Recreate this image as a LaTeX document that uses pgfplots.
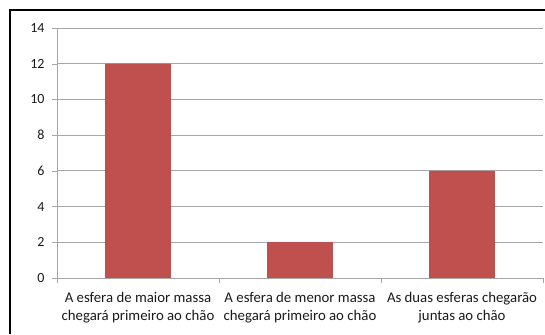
\documentclass[border=0pt]{standalone}
\usepackage{pgfplots}
\pgfplotsset{compat=1.18}
\usepackage{fontspec}
\setmainfont{Carlito}
\definecolor{barred}{HTML}{C0504D}
\definecolor{gridgray}{HTML}{A6A6A6}
\definecolor{txt}{HTML}{1A1A1A}
\begin{document}
\begin{tikzpicture}
\useasboundingbox (0pt,0pt) rectangle (545pt,334pt);
\draw[black,line width=2pt] (10pt,0pt) -- (10pt,324pt) -- (545pt,324pt);
\begin{axis}[
  at={(57pt,56pt)}, anchor=south west,
  scale only axis, width=486pt, height=250pt,
  xmin=0, xmax=3, ymin=0, ymax=14,
  ytick={0,2,...,14},
  xtick={0.5,1.5,2.5},
  xticklabels={{A esfera de maior massa\\chegará primeiro ao chão},{A esfera de menor massa\\chegará primeiro ao chão},{As duas esferas chegarão\\juntas ao chão}},
  xticklabel style={align=center, font=\fontsize{14.8}{18}\selectfont, text=txt},
  yticklabel style={font=\fontsize{14}{15}\selectfont, text=txt},
  minor xtick={0,1,2,3},
  major x tick style={draw=none},
  minor x tick style={draw=gridgray},
  y tick style={draw=gridgray},
  tick align=outside,
  major tick length=5pt, minor tick length=5pt,
  xtick pos=bottom, ytick pos=left,
  ymajorgrids, grid style={gridgray, line width=0.8pt},
  axis x line*=bottom, axis y line*=left,
  axis line style={gridgray, line width=0.8pt, -},
  xticklabel shift=6pt,
  yticklabel shift=4pt,
  /pgf/number format/assume math mode=true,
  ybar, bar width=65pt,
]
\addplot[fill=barred, draw=barred] coordinates {(0.5,12) (1.5,2) (2.5,6)};
\end{axis}
\end{tikzpicture}
\end{document}
